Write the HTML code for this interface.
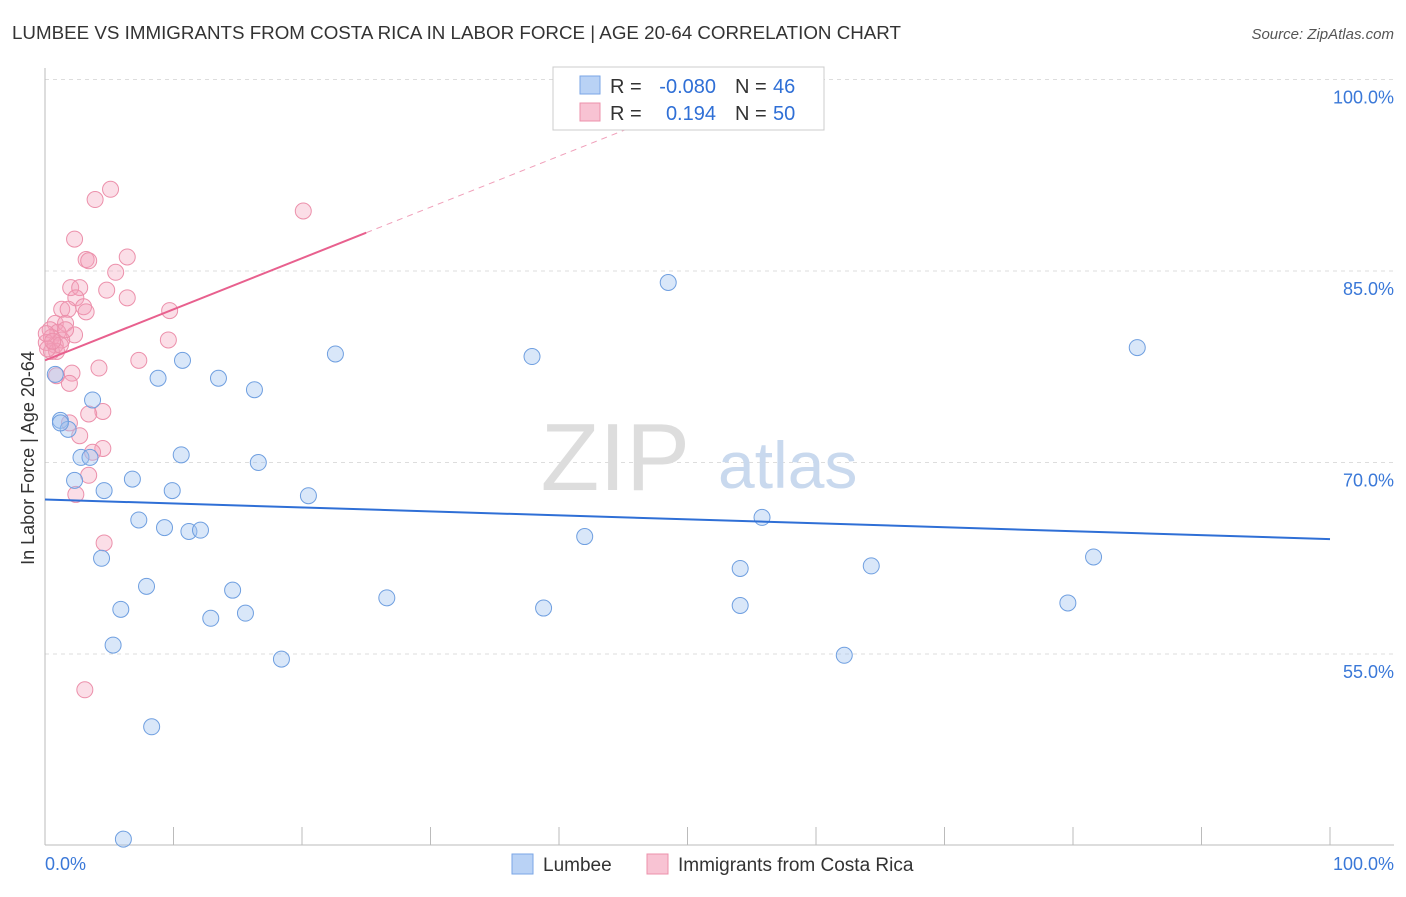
<!DOCTYPE html>
<html><head><meta charset="utf-8"><style>
body{margin:0;background:#fff;font-family:"Liberation Sans",sans-serif;}
svg text{font-family:"Liberation Sans",sans-serif;}
</style></head><body>
<svg width="1406" height="892" xmlns="http://www.w3.org/2000/svg">
<text x="12" y="39" font-size="18" fill="#333" textLength="889" lengthAdjust="spacingAndGlyphs">LUMBEE VS IMMIGRANTS FROM COSTA RICA IN LABOR FORCE | AGE 20-64 CORRELATION CHART</text>
<text x="1394" y="39" font-size="15" fill="#555" font-style="italic" text-anchor="end">Source: ZipAtlas.com</text>
<g id="grid"></g>
<text x="690" y="490" font-size="96" fill="#ddd" font-family="Liberation Serif" text-anchor="end">ZIP</text>
<text x="718" y="488" font-size="66" fill="#c9d9ee">atlas</text>
<text transform="translate(34,458) rotate(-90)" font-size="18" fill="#333" text-anchor="middle">In Labor Force | Age 20-64</text>
<g id="marks"></g>
<g>
<rect x="553" y="67" width="271" height="63" fill="#fff" stroke="#ccc"/>
<rect x="580" y="76" width="20" height="18" fill="#b9d2f5" stroke="#7aa6e6"/>
<rect x="580" y="103" width="20" height="18" fill="#f8c3d3" stroke="#ec90ab"/>
<text x="610" y="93" font-size="20" fill="#333">R =</text>
<text x="716" y="93" font-size="20" fill="#2f6fd6" text-anchor="end">-0.080</text>
<text x="735" y="93" font-size="20" fill="#333">N =</text>
<text x="773" y="93" font-size="20" fill="#2f6fd6">46</text>
<text x="610" y="120" font-size="20" fill="#333">R =</text>
<text x="716" y="120" font-size="20" fill="#2f6fd6" text-anchor="end">0.194</text>
<text x="735" y="120" font-size="20" fill="#333">N =</text>
<text x="773" y="120" font-size="20" fill="#2f6fd6">50</text>
</g>
<g>
<rect x="512" y="854" width="21" height="20" fill="#b9d2f5" stroke="#7aa6e6"/>
<text x="543" y="871" font-size="19" fill="#333">Lumbee</text>
<rect x="647" y="854" width="21" height="20" fill="#f8c3d3" stroke="#ec90ab"/>
<text x="678" y="871" font-size="19" fill="#333">Immigrants from Costa Rica</text>
</g>
<text x="45" y="870" font-size="18" fill="#3a78d8">0.0%</text>
<text x="1394" y="870" font-size="18" fill="#3a78d8" text-anchor="end">100.0%</text>
</svg>
<script>
const yTicks=[100,85,70,55];
const xTicks=[0,10,20,30,40,50,60,70,80,90,100];
const blueX=[0.8,1.2,1.8,3.7,2.3,2.8,3.5,4.6,4.4,5.9,5.3,6.8,7.3,7.9,8.3,6.1,8.8,9.3,9.9,10.6,10.7,11.2,12.1,12.9,13.5,14.6,15.6,16.3,16.6,18.4,20.5,22.6,26.6,37.9,38.8,42.0,48.5,54.1,54.1,55.8,62.2,64.3,79.6,81.6,85.0,1.2];
const blueY=[76.9,73.3,72.6,74.9,68.6,70.4,70.4,67.8,62.5,58.5,55.7,68.7,65.5,60.3,49.3,40.5,76.6,64.9,67.8,70.6,78.0,64.6,64.7,57.8,76.6,60.0,58.2,75.7,70.0,54.6,67.4,78.5,59.4,78.3,58.6,64.2,84.1,61.7,58.8,65.7,54.9,61.9,59.0,62.6,79.0,73.1];
const pinkX=[5.1,3.9,20.1,2.3,3.2,6.4,5.5,3.4,2.0,2.7,4.8,6.4,2.4,1.3,1.8,3.0,9.7,3.2,0.8,1.6,0.4,1.0,2.3,0.5,1.3,9.6,0.1,0.8,0.5,0.9,7.3,4.2,0.9,2.1,1.9,4.5,3.4,1.9,2.7,4.5,3.7,3.4,2.4,4.6,3.1,0.1,1.2,1.6,0.2,0.6];
const pinkY=[91.4,90.6,89.7,87.5,85.9,86.1,84.9,85.8,83.7,83.7,83.5,82.9,82.9,82.0,82.0,82.2,81.9,81.8,80.9,80.9,80.4,80.2,80.0,79.8,79.6,79.6,79.4,79.2,78.7,78.7,78.0,77.4,76.8,77.0,76.2,74.0,73.8,73.1,72.1,71.1,70.8,69.0,67.5,63.7,52.2,80.1,79.2,80.4,78.9,79.5];
const blueTrend=[67.1,64.0];
const pinkTrend=[78.0,0.40];
const X=v=>45+v*12.85, Y=v=>79.5+(100-v)*12.767;
const ns="http://www.w3.org/2000/svg";
function mk(t,a,p){const e=document.createElementNS(ns,t);for(const k in a)e.setAttribute(k,a[k]);p.appendChild(e);return e;}
const g=document.getElementById('grid'), m=document.getElementById('marks');
yTicks.forEach(t=>{
 const l=mk('line',{x1:45,x2:1394,y1:Y(t),y2:Y(t),stroke:'#ddd','stroke-dasharray':'4,4'},g);
 
 
 const tx=mk('text',{x:1394,y:Y(t)+24,'font-size':18,fill:'#3a78d8','text-anchor':'end'},g);
 tx.textContent=t.toFixed(1)+'%';
 
 
});
const ax=mk('line',{x1:45,x2:45,y1:68,y2:845,stroke:'#bbb'},g);


const bx=mk('line',{x1:45,x2:1394,y1:845,y2:845,stroke:'#bbb'},g);


xTicks.forEach(t=>{
 const l=mk('line',{x1:X(t),x2:X(t),y1:827,y2:845,stroke:'#bbb'},g);
 
 
});
pinkX.forEach((x,i)=>{
 const c=mk('circle',{cx:X(x),cy:Y(pinkY[i]),r:8,fill:'rgba(244,160,186,0.35)',stroke:'#ec90ab','stroke-width':1},m);
 
 
});
blueX.forEach((x,i)=>{
 const c=mk('circle',{cx:X(x),cy:Y(blueY[i]),r:8,fill:'rgba(160,194,240,0.4)',stroke:'#6f9fe0','stroke-width':1},m);
 
 
});
const bl=mk('line',{x1:X(0),y1:Y(blueTrend[0]),x2:X(100),y2:Y(blueTrend[1]),stroke:'#2f6fd6','stroke-width':2},m);


const pl=mk('line',{x1:X(0),y1:Y(pinkTrend[0]),x2:X(25),y2:Y(pinkTrend[0]+pinkTrend[1]*25),stroke:'#e8608e','stroke-width':2},m);


const pd=mk('line',{x1:X(25),y1:Y(pinkTrend[0]+pinkTrend[1]*25),x2:X(47),y2:Y(pinkTrend[0]+pinkTrend[1]*47),stroke:'#f0a0ba','stroke-width':1,'stroke-dasharray':'6,5'},m);


</script>
</body></html>
